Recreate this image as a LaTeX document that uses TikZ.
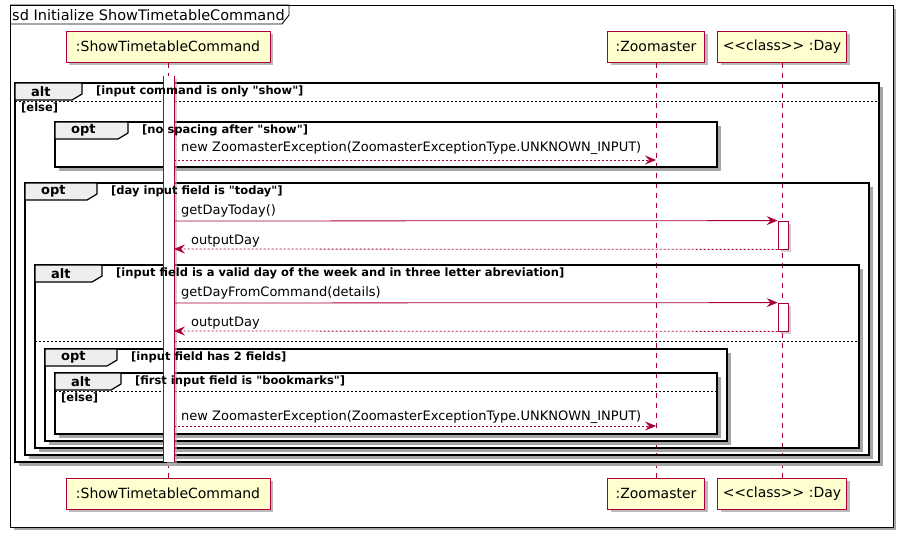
\documentclass[tikz,border=0pt]{standalone}
\usepackage{fontspec}
\setmainfont{DejaVu Sans}[Ligatures=TeXOff]
\usetikzlibrary{arrows.meta,shadows}
\definecolor{umlred}{HTML}{A80036}
\definecolor{umlyellow}{HTML}{FEFECE}
\definecolor{tabgray}{HTML}{EEEEEE}
\pgfdeclarelayer{front}
\pgfsetlayers{main,front}

% fragment: x1, y1, x2, y2, tab width, keyword, guard
\newcommand{\umlfrag}[7]{%
  \draw[fragshadow] (#1+4,#4+2.5) -- (#3+2.5,#4+2.5) -- (#3+2.5,#2+4);
  \draw[frag] (#1,#2) rectangle (#3,#4);
  \draw[fragtab] (#1,#2) -- (#1+#5,#2) -- (#1+#5,#2+11) -- (#1+#5-10,#2+17) -- (#1,#2+17) -- cycle;
  \begin{pgfonlayer}{front}
    \node[kw] at (#1+16,#2+8.5) {#6};
    \node[guard] at (#1+#5+14,#2+8.5) {#7};
  \end{pgfonlayer}
}

\tikzset{
  participant/.style={draw=umlred,fill=umlyellow,line width=1pt,minimum height=31pt,
    inner sep=0pt,font=\fontsize{14}{16}\selectfont,
    drop shadow={shadow xshift=3pt,shadow yshift=-3pt,fill=black!45,opacity=0.6}},
  lifeline/.style={draw=umlred,dash pattern=on 5pt off 5pt,line width=0.8pt},
  activation/.style={draw=umlred,fill=white,line width=0.8pt,minimum width=10pt,inner sep=0pt,
    drop shadow={shadow xshift=3pt,shadow yshift=-3pt,fill=black!30,opacity=0.6}},
  frag/.style={draw=black,line width=1.7pt},
  fragshadow/.style={draw=black!35,line width=3pt},
  fragtab/.style={draw=black,fill=tabgray,line width=1.2pt},
  separator/.style={draw=black,dash pattern=on 2pt off 2pt,line width=0.8pt},
  kw/.style={anchor=west,inner sep=0pt,font=\bfseries\fontsize{13}{15}\selectfont},
  guard/.style={anchor=west,inner sep=0pt,font=\bfseries\fontsize{11.5}{13}\selectfont},
  msg/.style={draw=umlred,line width=0.8pt,-{Stealth[length=11pt,width=9pt,inset=4pt]}},
  ret/.style={msg,dash pattern=on 2pt off 2pt},
  label/.style={anchor=west,inner sep=0pt,font=\fontsize{13}{15}\selectfont},
}

\begin{document}
\begin{tikzpicture}[x=1pt,y=-1pt]
  \useasboundingbox (0,0) rectangle (904,538);

  % frame
  \draw[black!35,line width=2.5pt] (14,529) -- (895,529) -- (895,9);
  \draw[fill=white,line width=0.9pt] (10,5) rectangle (893,527);
  \draw[line width=0.9pt] (10,5) -- (289,5) -- (289,15) -- (282,24) -- (10,24);
  \node[anchor=west,inner sep=0pt,font=\fontsize{14.5}{16}\selectfont] (title) at (12,15) {sd Initialize ShowTimetableCommand};

  % participants
  \node[participant,minimum width=204pt] (stc) at (168,46.5) {:ShowTimetableCommand};
  \node[participant,minimum width=97pt] (zoo) at (656,46.5) {:Zoomaster};
  \node[participant,minimum width=129pt] (day) at (782,46.5) {<<class>> :Day};
  \node[participant,minimum width=204pt] (stcb) at (168,493.5) {:ShowTimetableCommand};
  \node[participant,minimum width=97pt] (zoob) at (656,493.5) {:Zoomaster};
  \node[participant,minimum width=129pt] (dayb) at (782,493.5) {<<class>> :Day};

  \draw[lifeline] (stc) -- (stcb);
  \draw[lifeline] (zoo) -- (zoob);
  \draw[lifeline] (day) -- (dayb);

  % fragments
  \umlfrag{15}{83}{879}{462}{67}{alt}{[input command is only "show"]}
  \draw[separator] (15,101) -- (879,101);
  \node[guard] (else1) at (21,108) {[else]};
  \umlfrag{55}{122}{717}{167}{73}{opt}{[no spacing after "show"]}
  \umlfrag{25}{183}{869}{455}{72}{opt}{[day input field is "today"]}
  \umlfrag{35}{265}{859}{448}{67}{alt}{[input field is a valid day of the week and in three letter abreviation]}
  \draw[separator] (35,341) -- (859,341);
  \umlfrag{45}{349}{727}{441}{72}{opt}{[input field has 2 fields]}
  \umlfrag{55}{373}{717}{434}{66}{alt}{[first input field is "bookmarks"]}
  \draw[separator] (55,391) -- (717,391);
  \node[guard] (else2) at (61,398) {[else]};

  % activations
  \node[activation,draw=none,minimum height=386pt] (actstc) at (169,269) {};
  \draw[umlred,line width=0.8pt] (actstc.north west) -- (actstc.south west)
    (actstc.north east) -- (actstc.south east);
  \node[activation,minimum height=28pt] (actday) at (783,235) {};
  \node[activation,minimum height=28pt] (actday2) at (783,317) {};

  % messages
  \coordinate (s1) at (174,160);
  \coordinate (e1) at (zoo |- s1);
  \draw[ret] (s1) -- (e1);
  \node[label] at (181,148) {new ZoomasterException(ZoomasterExceptionType.UNKNOWN\_INPUT)};

  \coordinate (s2) at (174,221);
  \draw[msg] (s2) -- (actday.north west);
  \node[label] at (181,211) {getDayToday()};

  \coordinate (e3) at (174,249);
  \draw[ret] (actday.south west) -- (e3);
  \node[label] at (191,241) {outputDay};

  \coordinate (s4) at (174,303);
  \draw[msg] (s4) -- (actday2.north west);
  \node[label] at (181,293) {getDayFromCommand(details)};

  \coordinate (e5) at (174,331);
  \draw[ret] (actday2.south west) -- (e5);
  \node[label] at (191,323) {outputDay};

  \coordinate (s6) at (174,426);
  \coordinate (e6) at (zoo |- s6);
  \draw[ret] (s6) -- (e6);
  \node[label] at (181,417) {new ZoomasterException(ZoomasterExceptionType.UNKNOWN\_INPUT)};
\end{tikzpicture}
\end{document}
